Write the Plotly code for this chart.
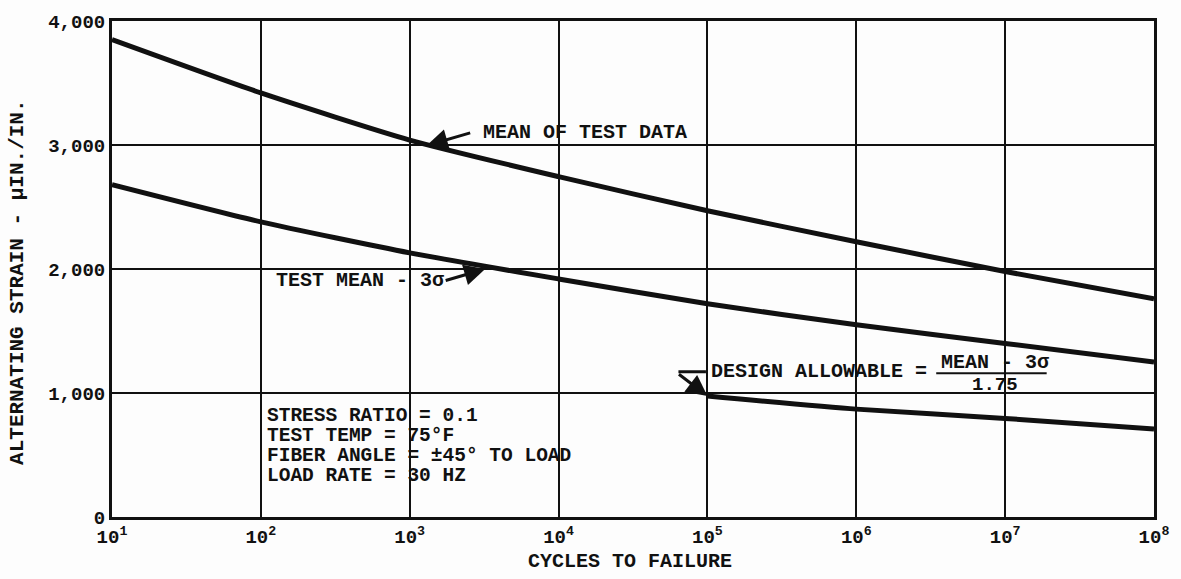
import plotly.graph_objects as go

# Fatigue strain vs cycles to failure
cycles = [1e1, 1e2, 1e3, 1e4, 1e5, 1e6, 1e7, 1e8]
mean_strain = [3850, 3420, 3040, 2745, 2470, 2220, 1980, 1760]
minus3s_strain = [2680, 2380, 2130, 1920, 1720, 1550, 1400, 1250]
design_cycles = [1e5, 1e6, 1e7, 1e8]
design_strain = [975, 870, 795, 710]

x_tickvals = [1e1, 1e2, 1e3, 1e4, 1e5, 1e6, 1e7, 1e8]
x_ticktext = ["10<sup>%d</sup>" % k for k in range(1, 9)]
y_tickvals = [0, 1000, 2000, 3000, 4000]

FONT = "Liberation Mono"
INK = "#111111"
BG = "#fdfdfd"
LABEL = 20

fig = go.Figure()
for xs, ys in [(cycles, mean_strain), (cycles, minus3s_strain), (design_cycles, design_strain)]:
    fig.add_trace(go.Scatter(x=xs, y=ys, mode="lines", line=dict(color=INK, width=5, shape="spline", smoothing=0.6),
                             hoverinfo="skip", showlegend=False))

fig.update_layout(
    width=1181, height=579,
    margin=dict(l=112, r=16, t=15, b=62),
    paper_bgcolor=BG, plot_bgcolor=BG,
    font=dict(family=FONT, color=INK, size=19, weight="bold"),
    showlegend=False,
)
fig.update_xaxes(type="log", range=[1, 8], tickvals=x_tickvals, ticktext=x_ticktext,
                 showgrid=True, gridcolor=INK, gridwidth=2,
                 showline=True, linecolor=INK, linewidth=3, mirror=True,
                 ticks="", tickfont=dict(size=19), zeroline=False)
fig.update_yaxes(range=[0, 4000], tickvals=y_tickvals, tickformat=",",
                 showgrid=True, gridcolor=INK, gridwidth=2,
                 showline=True, linecolor=INK, linewidth=3, mirror=True,
                 ticks="", tickfont=dict(size=19), zeroline=False)

# white patches where grid lines are broken around the labels
fig.add_shape(type="rect", xref="paper", yref="y", x0=0.145, x1=0.444, y0=225, y1=895,
              fillcolor=BG, line=dict(width=0), layer="between")
fig.add_shape(type="rect", xref="paper", yref="y", x0=0.272, x1=0.300, y0=1815, y1=1985,
              fillcolor=BG, line=dict(width=0), layer="between")

# curve labels
fig.add_annotation(x=3.48, y=3100, text="MEAN OF TEST DATA", showarrow=False, xanchor="left",
                   font=dict(size=LABEL))
fig.add_annotation(x=3.114, y=2996, text="", showarrow=True, ax=45, ay=-13,
                   arrowhead=2, arrowsize=1.4, arrowwidth=3, arrowcolor=INK)
fig.add_annotation(x=2.09, y=1904, text="TEST MEAN - 3σ", showarrow=False, xanchor="left",
                   font=dict(size=LABEL))
fig.add_annotation(x=3.507, y=2000, text="", showarrow=True, ax=-41, ay=12,
                   arrowhead=2, arrowsize=1.4, arrowwidth=3, arrowcolor=INK)

# design allowable label with leader
fig.add_annotation(x=5.01, y=1171, text="DESIGN ALLOWABLE =", showarrow=False, xanchor="left",
                   font=dict(size=LABEL))
fig.add_annotation(x=4.99, y=1171, text="", showarrow=True, ax=-29, ay=0,
                   arrowhead=0, arrowwidth=3, arrowcolor=INK)
fig.add_annotation(x=5.0, y=design_strain[0], text="", showarrow=True, ax=-30, ay=-23,
                   arrowhead=2, arrowsize=1.4, arrowwidth=3, arrowcolor=INK)
fig.add_annotation(x=6.93, y=1245, text="MEAN - 3σ", showarrow=False, font=dict(size=LABEL))
fig.add_shape(type="line", xref="paper", yref="y", x0=0.791, x1=0.897, y0=1160, y1=1160,
              line=dict(color=INK, width=2))
fig.add_annotation(x=6.93, y=1068, text="1.75", showarrow=False, font=dict(size=19))

# test conditions
cond_lines = ["STRESS RATIO = 0.1", "TEST TEMP = 75°F", "FIBER ANGLE = ±45° TO LOAD", "LOAD RATE = 30 HZ"]
cond_y = [813, 653, 490, 327]
for t, yv in zip(cond_lines, cond_y):
    fig.add_annotation(x=2.03, y=yv, text=t, showarrow=False, xanchor="left", font=dict(size=19.5))

# axis titles
fig.add_annotation(xref="paper", yref="paper", x=-0.0902, y=0.472, text="ALTERNATING STRAIN - μIN./IN.",
                   textangle=-90, showarrow=False, xanchor="center", yanchor="middle", font=dict(size=21))
fig.add_annotation(xref="paper", yref="paper", x=0.4967, y=-0.0896, text="CYCLES TO FAILURE",
                   showarrow=False, xanchor="center", yanchor="middle", font=dict(size=20))

fig.write_html("out.html")
